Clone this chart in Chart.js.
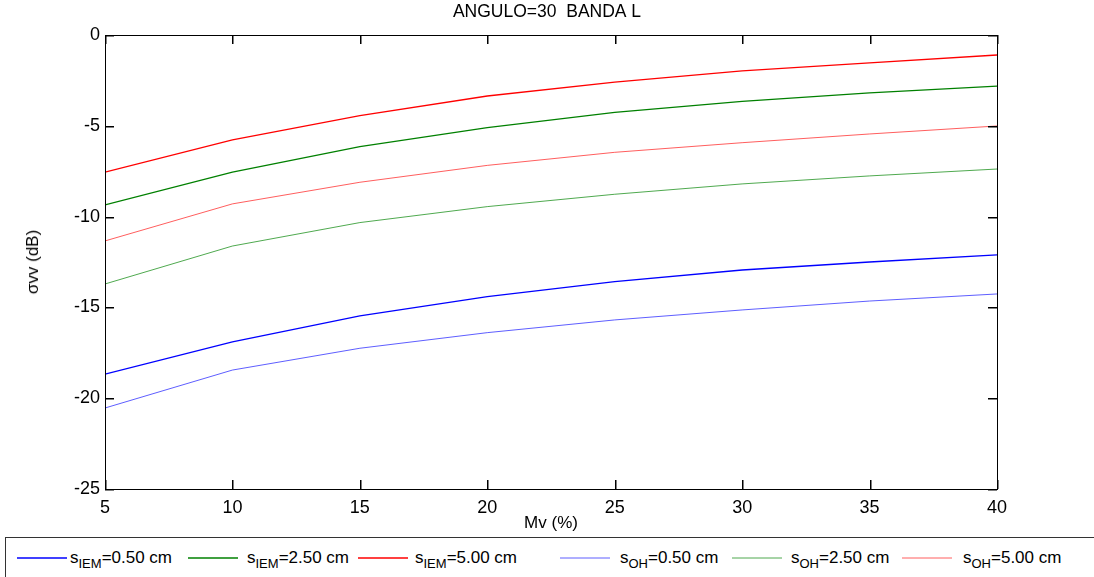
<!DOCTYPE html>
<html>
<head>
<meta charset="utf-8">
<script src="https://cdn.jsdelivr.net/npm/chart.js@4"></script>
<style>
  body { margin: 0; background: #fff; font-family: "Liberation Sans", Arial, sans-serif; }
  #wrap { position: relative; width: 1094px; height: 577px; overflow: hidden; }
  #box { position: absolute; left: 0; top: 0; width: 1094px; height: 535px; }
  #ytitle {
    position: absolute; left: 24px; top: 262px; font-size: 17px; color: #000;
    transform: translate(-50%, -50%) rotate(-90deg); transform-origin: center; white-space: nowrap;
    margin-left: 9px;
  }
  #legend {
    position: absolute; left: 5px; top: 537px; width: 1100px; height: 45px;
    border: 1.5px solid #333; box-sizing: border-box;
    font-size: 17px; color: #000; white-space: nowrap;
  }
  #legend svg { position: absolute; top: 15px; }
  #legend .label { position: absolute; top: 10px; }
  #legend sub { font-size: 13px; position: relative; top: 1px; }
</style>
</head>
<body>
<div id="wrap">
  <div id="box"><canvas id="chart"></canvas></div>
  <div id="ytitle">σvv (dB)</div>
  <div id="legend"></div>
</div>
<script>
// Mv (%) along x, sigma vv (dB) for each roughness / model
const mv = [5, 10, 15, 20, 25, 30, 35, 40];
const iem050 = [-18.67, -16.90, -15.47, -14.41, -13.58, -12.94, -12.50, -12.11];
const iem250 = [-9.36, -7.55, -6.15, -5.10, -4.26, -3.65, -3.19, -2.81];
const iem500 = [-7.55, -5.78, -4.44, -3.36, -2.59, -1.98, -1.54, -1.10];
const oh050 = [-20.54, -18.45, -17.25, -16.39, -15.69, -15.14, -14.65, -14.26];
const oh250 = [-13.71, -11.62, -10.33, -9.45, -8.77, -8.20, -7.76, -7.38];
const oh500 = [-11.34, -9.30, -8.11, -7.18, -6.46, -5.93, -5.45, -5.01];

const series = [
  { model: "IEM", s: "0.50", values: iem050, color: "#0000ff", width: 1.3 },
  { model: "IEM", s: "2.50", values: iem250, color: "#008000", width: 1.3 },
  { model: "IEM", s: "5.00", values: iem500, color: "#ff0000", width: 1.3 },
  { model: "OH", s: "0.50", values: oh050, color: "rgba(40,40,255,0.75)", width: 1 },
  { model: "OH", s: "2.50", values: oh250, color: "rgba(20,140,20,0.75)", width: 1 },
  { model: "OH", s: "5.00", values: oh500, color: "rgba(255,40,40,0.75)", width: 1 },
];
// legend layout (inside the legend box): line sample start and label start
const legendLineX = [11, 182, 352, 554, 726, 896];
const legendTextX = [64, 241, 409, 614, 785, 957];

const family = "'Liberation Sans', Arial, sans-serif";
const font = { family, size: 18 };
const tickLen = 9;

// MATLAB-like box with inward ticks on all four sides
const boxPlugin = {
  id: "box",
  afterDraw(chart) {
    const { ctx, chartArea: a, scales } = chart;
    ctx.save();
    ctx.fillStyle = "#000";
    const w = a.right - a.left, h = a.bottom - a.top;
    ctx.fillRect(a.left, a.top, w + 1, 1);
    ctx.fillRect(a.left, a.bottom, w + 1, 1);
    ctx.fillRect(a.left, a.top, 1, h + 1);
    ctx.fillRect(a.right, a.top, 1, h + 1);
    scales.x.ticks.forEach((t) => {
      const px = Math.round(scales.x.getPixelForValue(t.value));
      ctx.fillRect(px, a.bottom - tickLen, 1.5, tickLen);
      ctx.fillRect(px, a.top, 1.5, tickLen);
    });
    scales.y.ticks.forEach((t) => {
      const py = Math.round(scales.y.getPixelForValue(t.value));
      ctx.fillRect(a.left, py, tickLen, 1.5);
      ctx.fillRect(a.right - tickLen, py, tickLen, 1.5);
    });
    ctx.restore();
  },
};

new Chart(document.getElementById("chart"), {
  type: "line",
  data: {
    datasets: series.map((s) => ({
      label: "s" + s.model + "=" + s.s + " cm",
      data: mv.map((x, i) => ({ x, y: s.values[i] })),
      borderColor: s.color,
      borderWidth: s.width,
      pointRadius: 0,
      tension: 0,
      fill: false,
    })),
  },
  options: {
    responsive: true,
    maintainAspectRatio: false,
    animation: false,
    layout: { padding: 0 },
    plugins: {
      legend: { display: false },
      tooltip: { enabled: false },
      title: {
        display: true,
        text: "ANGULO=30  BANDA L",
        color: "#000",
        font: { family, size: 17.5, weight: "normal" },
        padding: { top: 2, bottom: 12 },
      },
    },
    scales: {
      x: {
        type: "linear",
        min: 5,
        max: 40,
        afterFit: (scale) => { scale.height = 46; },
        ticks: { stepSize: 5, color: "#000", font, padding: 8 },
        grid: { display: false, drawTicks: false },
        border: { display: false },
        title: { display: true, text: "Mv (%)", color: "#000", font: { family, size: 17 }, padding: { top: 1, bottom: 1 } },
      },
      y: {
        min: -25,
        max: 0,
        afterFit: (scale) => { scale.width = 105; },
        ticks: { stepSize: 5, color: "#000", font, padding: 5 },
        grid: { display: false, drawTicks: false },
        border: { display: false },
      },
      // empty right-hand axis only reserves the margin right of the box
      yRight: {
        position: "right",
        min: -25,
        max: 0,
        afterFit: (scale) => { scale.width = 97; },
        ticks: { display: false },
        grid: { display: false, drawTicks: false },
        border: { display: false },
      },
    },
  },
  plugins: [boxPlugin],
});

// legend with subscripts
const legend = document.getElementById("legend");
series.forEach((s, i) => {
  legend.insertAdjacentHTML(
    "beforeend",
    '<svg width="50" height="10" style="left:' + legendLineX[i] + 'px">' +
      '<line x1="0" y1="5" x2="50" y2="5" stroke="' + s.color + '" stroke-width="' + s.width + '"/></svg>' +
      '<div class="label" style="left:' + legendTextX[i] + 'px">s<sub>' + s.model + "</sub>=" + s.s + " cm</div>"
  );
});
</script>
</body>
</html>
